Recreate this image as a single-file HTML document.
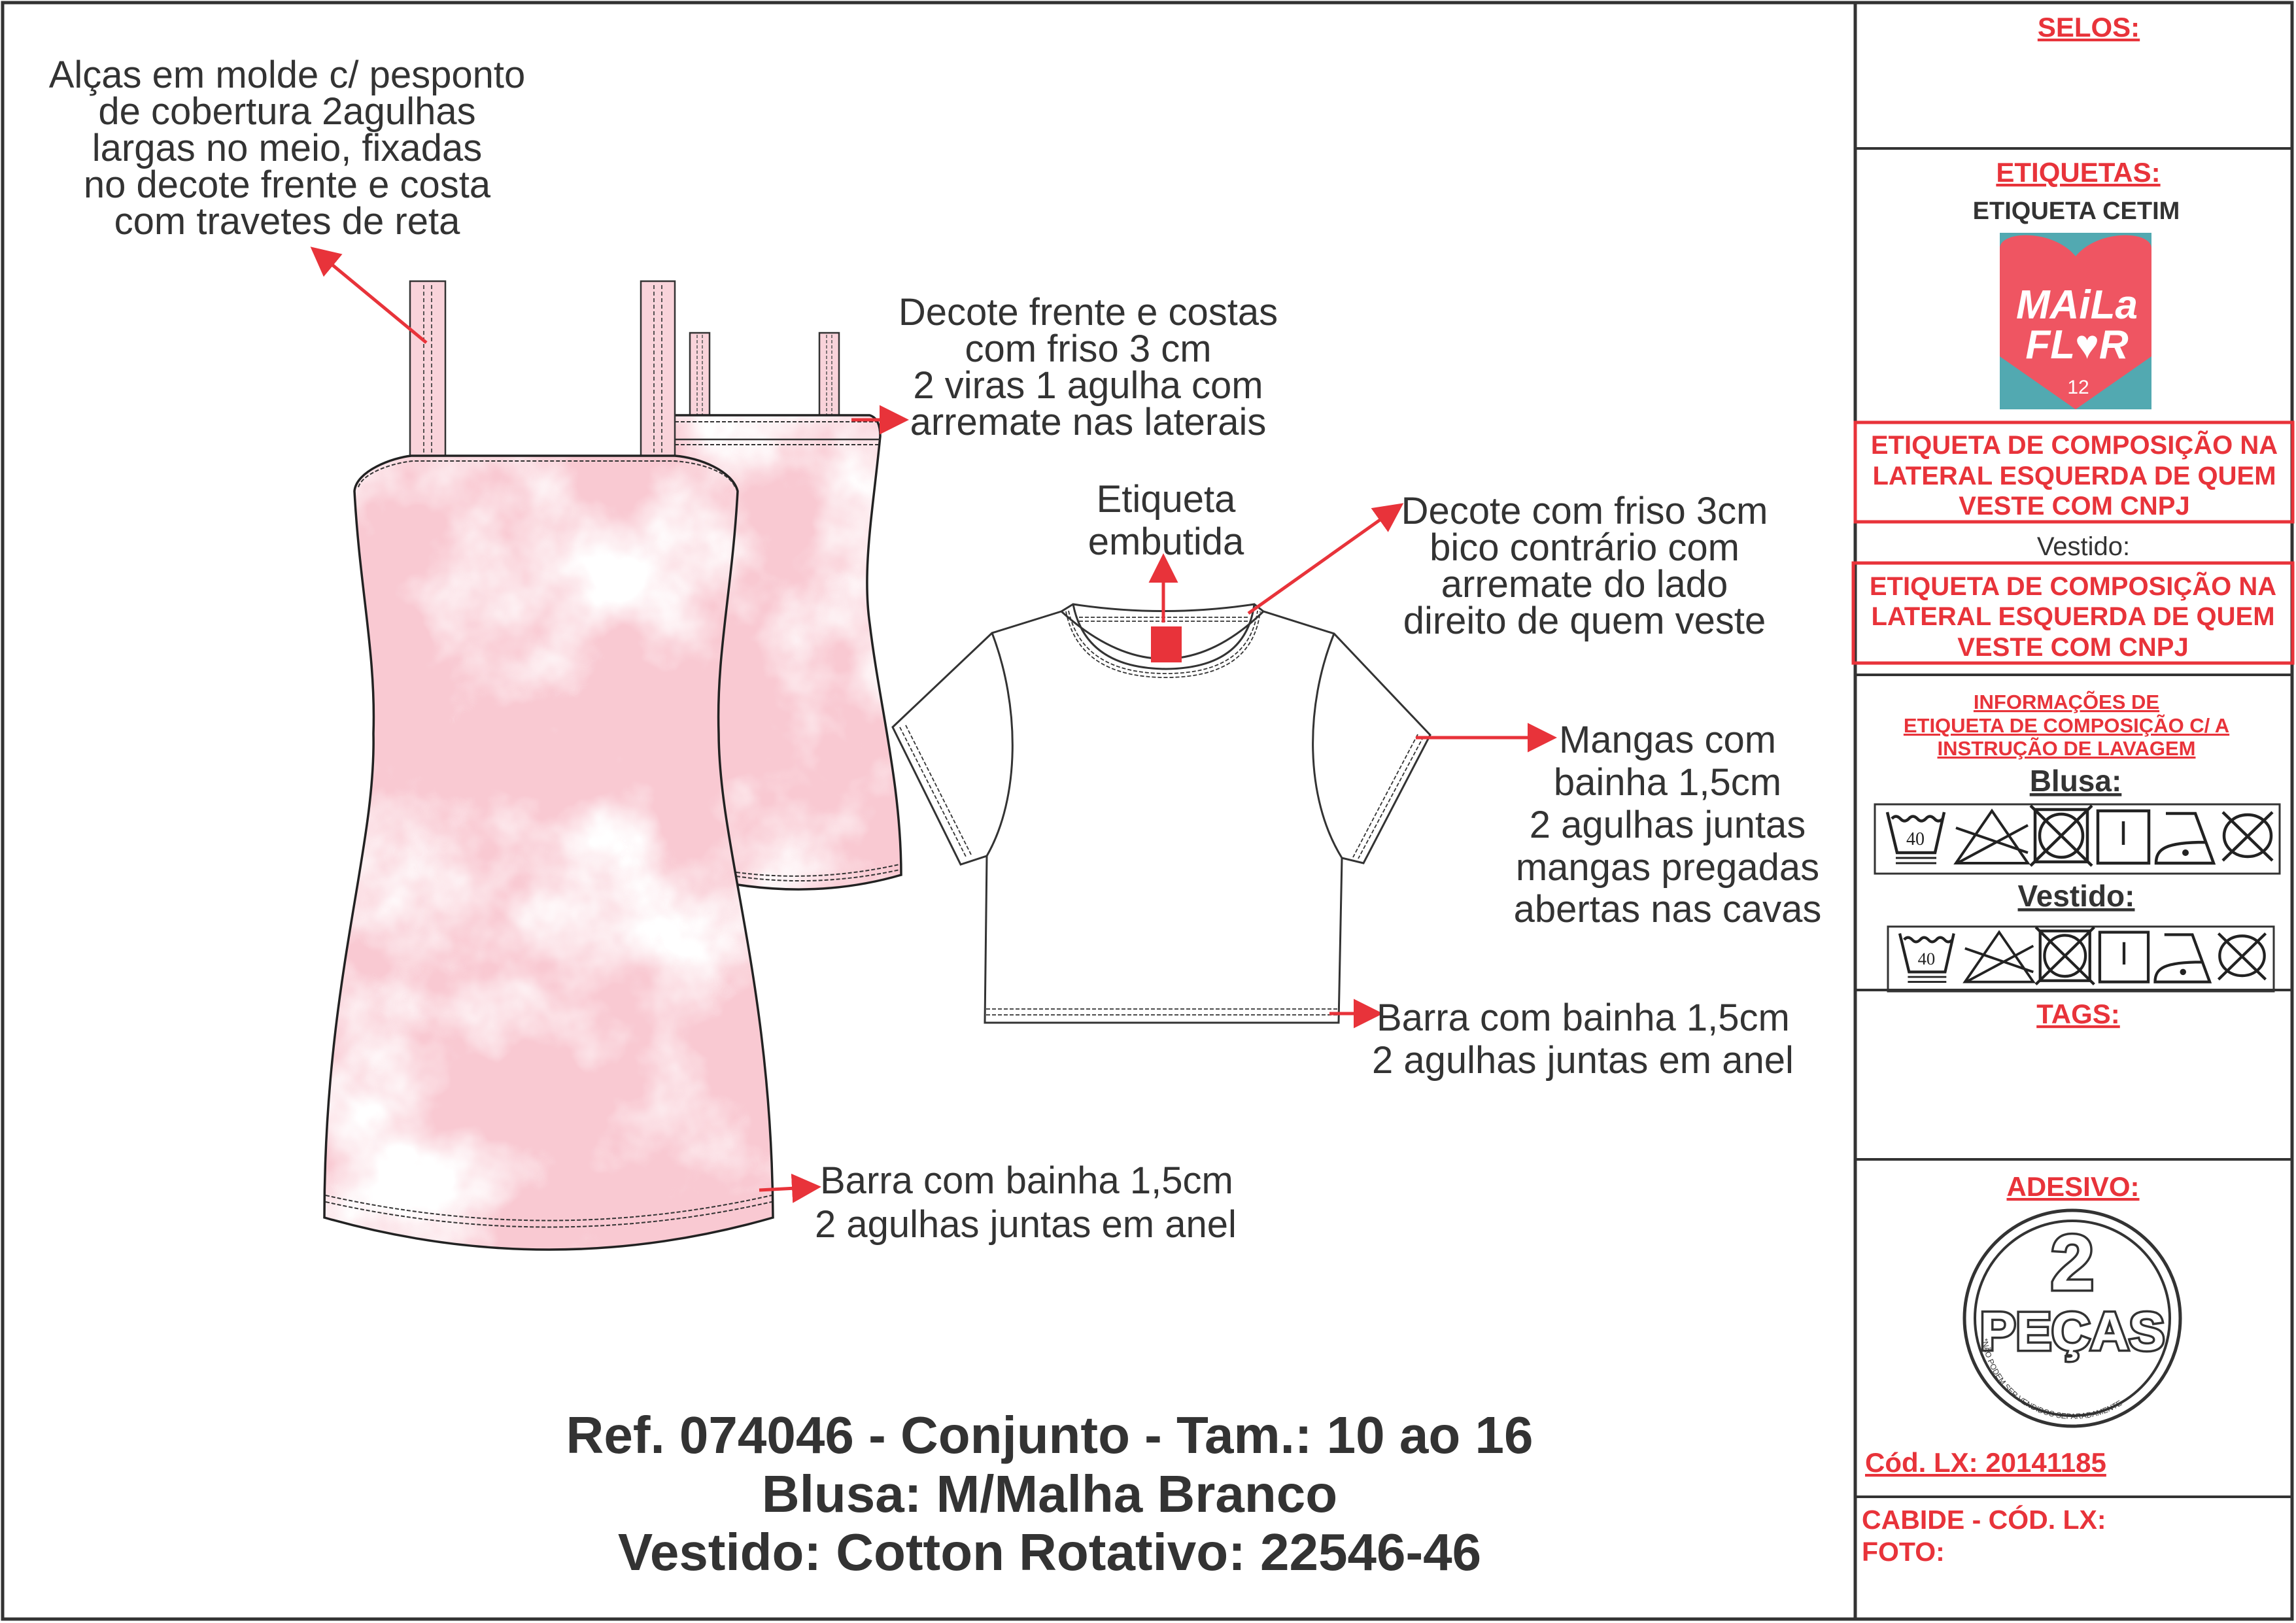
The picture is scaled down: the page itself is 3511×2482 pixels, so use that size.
<!DOCTYPE html>
<html><head><meta charset="utf-8"><style>html,body{margin:0;padding:0;background:#fff}svg{display:block}</style></head><body>
<svg width="3511" height="2482" viewBox="0 0 3511 2482" xmlns="http://www.w3.org/2000/svg" font-family="Liberation Sans, Arial, sans-serif">
<defs>
<marker id="ah" markerWidth="9" markerHeight="9" refX="5" refY="4.5" orient="auto" markerUnits="strokeWidth"><path d="M0,0 L9,4.5 L0,9 Z" fill="#e8333a"/></marker>
<filter id="td" x="0" y="0" width="100%" height="100%"><feTurbulence type="fractalNoise" baseFrequency="0.004" numOctaves="5" seed="7"/><feColorMatrix type="matrix" values="0 0 0 0 1  0 0 0 0 1  0 0 0 0 1  4 0 0 0 -1.8"/></filter>
<clipPath id="cf"><path d="M542,751 C545,720 600,700 629,697 L1032,697 C1070,700 1120,720 1128,751 C1120,900 1095,1000 1099,1122 C1100,1300 1180,1500 1182,1862 Q840,1960 496,1862 C496,1500 575,1300 571,1122 C575,1000 550,900 542,751 Z"/></clipPath>
<clipPath id="cb"><path d="M1032,635 L1330,635 Q1346,640 1346,667 C1335,780 1318,870 1330,954 C1345,1080 1378,1200 1378,1338 Q1250,1375 1110,1350 L1032,1000 Z"/></clipPath>
<path id="arc" d="M3030,2030 A140,140 0 0 0 3310,2030"/>
</defs>
<rect width="3511" height="2482" fill="#fff"/>
<rect x="4" y="4" width="3501" height="2472" fill="none" stroke="#333" stroke-width="5"/>
<line x1="2837" y1="4" x2="2837" y2="2476" stroke="#333" stroke-width="5"/>
<g stroke="#333" stroke-width="4">
<line x1="2837" y1="227" x2="3505" y2="227"/>
<line x1="2837" y1="1032" x2="3505" y2="1032"/>
<line x1="2837" y1="1514" x2="3505" y2="1514"/>
<line x1="2837" y1="1773" x2="3505" y2="1773"/>
<line x1="2837" y1="2289" x2="3505" y2="2289"/>
</g>

<g stroke="#333" stroke-width="2.5" fill="#f9d3da">
<rect x="1055" y="509" width="30" height="160"/><rect x="1253" y="509" width="30" height="160"/>
</g>
<g stroke="#555" stroke-width="1.5" stroke-dasharray="5 3"><line x1="1066" y1="512" x2="1066" y2="668"/><line x1="1074" y1="512" x2="1074" y2="668"/><line x1="1264" y1="512" x2="1264" y2="668"/><line x1="1272" y1="512" x2="1272" y2="668"/></g>
<g clip-path="url(#cb)"><rect x="1000" y="600" width="400" height="800" fill="#f9c9d2"/><rect x="1000" y="600" width="400" height="800" filter="url(#td)"/></g>
<path d="M1032,635 L1330,635 Q1346,640 1346,667 C1335,780 1318,870 1330,954 C1345,1080 1378,1200 1378,1338 Q1250,1375 1110,1350" fill="none" stroke="#222" stroke-width="3.5"/>
<line x1="1032" y1="672" x2="1346" y2="672" stroke="#333" stroke-width="2.5"/>
<g fill="none" stroke="#333" stroke-width="2" stroke-dasharray="6 3"><line x1="1032" y1="645" x2="1340" y2="645"/><line x1="1032" y1="680" x2="1346" y2="680"/><path d="M1126,1334 Q1250,1350 1375,1322"/><path d="M1126,1340 Q1250,1358 1376,1330"/></g>
<g stroke="#333" stroke-width="2.5" fill="#f9d3da">
<rect x="627" y="430" width="54" height="267"/><rect x="980" y="430" width="52" height="267"/>
</g>
<g stroke="#444" stroke-width="1.8" stroke-dasharray="6 4"><line x1="648" y1="436" x2="648" y2="695"/><line x1="660" y1="436" x2="660" y2="695"/><line x1="1000" y1="436" x2="1000" y2="695"/><line x1="1012" y1="436" x2="1012" y2="695"/></g>
<g clip-path="url(#cf)"><rect x="480" y="680" width="720" height="1300" fill="#f9c9d2"/><rect x="480" y="680" width="720" height="1300" filter="url(#td)"/></g>
<path d="M542,751 C545,720 600,700 629,697 L1032,697 C1070,700 1120,720 1128,751 C1120,900 1095,1000 1099,1122 C1100,1300 1180,1500 1182,1862 Q840,1960 496,1862 C496,1500 575,1300 571,1122 C575,1000 550,900 542,751 Z" fill="none" stroke="#222" stroke-width="3.5"/>
<g fill="none" stroke="#333" stroke-width="2" stroke-dasharray="6 3"><path d="M548,745 C555,722 605,707 632,705 L1030,705 C1070,707 1115,722 1124,745"/><path d="M498,1828 Q840,1905 1180,1828"/><path d="M498,1838 Q840,1915 1180,1838"/></g>

<g fill="#fff" stroke="#333" stroke-width="3">
<path d="M1623,935 L1517,968 L1365,1112 L1469,1322 L1509,1309 L1506,1564 L2047,1564 L2052,1312 L2085,1320 L2187,1124 L2040,969 L1932,935 Q1783,1080 1623,935 Z"/>
<path d="M1517,968 C1560,1080 1560,1220 1509,1309" fill="none"/>
<path d="M2040,969 C1995,1080 1995,1220 2052,1312" fill="none"/>
<path d="M1623,935 L1641,924 Q1780,945 1918,924 L1932,935" fill="none"/>
<path d="M1641,924 Q1660,1022 1783,1023 Q1905,1022 1918,924" fill="none"/>
</g>
<g fill="none" stroke="#333" stroke-width="1.8" stroke-dasharray="6 3">
<path d="M1630,935 Q1650,1036 1783,1036 Q1915,1036 1927,935"/><path d="M1634,934 Q1655,1030 1783,1030 Q1910,1030 1923,934"/>
<line x1="1650" y1="944" x2="1910" y2="944"/><line x1="1650" y1="950" x2="1910" y2="950"/>
<line x1="1376" y1="1112" x2="1477" y2="1310"/><line x1="1385" y1="1109" x2="1485" y2="1307"/>
<line x1="2177" y1="1126" x2="2077" y2="1313"/><line x1="2168" y1="1123" x2="2069" y2="1311"/>
<line x1="1508" y1="1543" x2="2045" y2="1543"/><line x1="1508" y1="1552" x2="2045" y2="1552"/>
</g>
<rect x="1760" y="958" width="47" height="55" fill="#e8333a"/>

<g stroke="#e8333a" stroke-width="5" marker-end="url(#ah)">
<line x1="652" y1="524" x2="490" y2="390"/>
<line x1="1302" y1="642" x2="1370" y2="642"/>
<line x1="1161" y1="1820" x2="1236" y2="1816"/>
<line x1="1779" y1="952" x2="1779" y2="866"/>
<line x1="1909" y1="938" x2="2130" y2="781"/>
<line x1="2165" y1="1128" x2="2361" y2="1128"/>
<line x1="2033" y1="1550" x2="2095" y2="1550"/>
</g>

<g fill="#333" font-size="58" text-anchor="middle">
<text x="439" y="134">Alças em molde c/ pesponto</text>
<text x="439" y="190">de cobertura 2agulhas</text>
<text x="439" y="246">largas no meio, fixadas</text>
<text x="439" y="302">no decote frente e costa</text>
<text x="439" y="358">com travetes de reta</text>
<text x="1664" y="497">Decote frente e costas</text>
<text x="1664" y="553">com friso 3 cm</text>
<text x="1664" y="609">2 viras 1 agulha com</text>
<text x="1664" y="665">arremate nas laterais</text>
<text x="1783" y="783">Etiqueta</text>
<text x="1783" y="848">embutida</text>
<text x="2423" y="801">Decote com friso 3cm</text>
<text x="2423" y="857">bico contrário com</text>
<text x="2423" y="913">arremate do lado</text>
<text x="2423" y="969">direito de quem veste</text>
<text x="2550" y="1151">Mangas com</text>
<text x="2550" y="1216">bainha 1,5cm</text>
<text x="2550" y="1281">2 agulhas juntas</text>
<text x="2550" y="1346">mangas pregadas</text>
<text x="2550" y="1410">abertas nas cavas</text>
</g>
<g fill="#333" font-size="58">
<text x="2105" y="1576">Barra com bainha 1,5cm</text>
<text x="2098" y="1641">2 agulhas juntas em anel</text>
<text x="1254" y="1825">Barra com bainha 1,5cm</text>
<text x="1246" y="1892">2 agulhas juntas em anel</text>
</g>
<g fill="#333" font-size="80" font-weight="bold" text-anchor="middle">
<text x="1605" y="2222">Ref. 074046 - Conjunto - Tam.: 10 ao 16</text>
<text x="1605" y="2312">Blusa: M/Malha Branco</text>
<text x="1605" y="2401">Vestido: Cotton Rotativo: 22546-46</text>
</g>

<g font-weight="bold" text-anchor="middle" fill="#e8333a" text-decoration="underline">
<text x="3194" y="56" font-size="42">SELOS:</text>
<text x="3178" y="278" font-size="42">ETIQUETAS:</text>
<text x="3178" y="1565" font-size="42">TAGS:</text>
<text x="3170" y="1829" font-size="42">ADESIVO:</text>
<text x="3160" y="1084" font-size="31">INFORMAÇÕES DE</text>
<text x="3160" y="1120" font-size="31">ETIQUETA DE COMPOSIÇÃO C/ A</text>
<text x="3160" y="1155" font-size="31">INSTRUÇÃO DE LAVAGEM</text>
</g>
<text x="3175" y="335" font-size="38" font-weight="bold" fill="#333" text-anchor="middle">ETIQUETA CETIM</text>
<rect x="3058" y="356" width="232" height="270" fill="#52a9b1"/>
<path d="M3174,392 C3140,350 3058,352 3058,380 L3058,545 L3174,626 L3290,545 L3290,380 C3290,352 3208,350 3174,392 Z" fill="#ef5562"/>
<g fill="#fff" font-weight="bold" text-anchor="middle">
<text x="3176" y="487" font-size="62" font-style="italic">MAiLa</text>
<text x="3176" y="548" font-size="62" font-style="italic">FL♥R</text>
<text x="3178" y="602" font-size="30" font-weight="normal">12</text>
</g>
<rect x="2837" y="646" width="669" height="152" fill="none" stroke="#e8333a" stroke-width="5"/>
<rect x="2834" y="861" width="672" height="153" fill="none" stroke="#e8333a" stroke-width="5"/>
<g fill="#e8333a" font-size="40" font-weight="bold" text-anchor="middle">
<text x="3172" y="694">ETIQUETA DE COMPOSIÇÃO NA</text>
<text x="3172" y="741">LATERAL ESQUERDA DE QUEM</text>
<text x="3172" y="787">VESTE COM CNPJ</text>
<text x="3170" y="910">ETIQUETA DE COMPOSIÇÃO NA</text>
<text x="3170" y="956">LATERAL ESQUERDA DE QUEM</text>
<text x="3170" y="1003">VESTE COM CNPJ</text>
</g>
<text x="3186" y="849" font-size="40" fill="#333" text-anchor="middle">Vestido:</text>
<g fill="#333" font-weight="bold" text-anchor="middle" text-decoration="underline" font-size="46">
<text x="3174" y="1210">Blusa:</text>
<text x="3175" y="1386">Vestido:</text>
</g>
<rect x="2867" y="1230" width="619" height="106" fill="none" stroke="#333" stroke-width="3"/>
<g transform="translate(2867,1232)" fill="none" stroke="#222" stroke-width="4.5">
<path d="M19,10 L34,72 L92,72 L106,10"/><path d="M26,20 q6,-7 13,0 q6,7 13,0 q6,-7 13,0 q6,7 13,0 q6,-7 13,0 q6,7 13,0"/>
<path d="M32,80 L94,80 M32,88 L94,88" stroke-width="3"/>
<text x="62" y="60" font-size="28" fill="#222" stroke="none" text-anchor="middle" font-family="Liberation Serif, serif">40</text>
<path d="M124,88 L179,8 L234,88 Z M124,34 L234,72 M126,88 L234,30" stroke-width="4"/>
<rect x="245" y="6" width="80" height="80"/><circle cx="285" cy="46" r="33"/><path d="M238,0 L332,92 M332,0 L238,92"/>
<rect x="341" y="8" width="78" height="80"/><path d="M380,24 L380,60"/>
<path d="M445,12 L490,12 L518,88 L430,88 C430,66 445,56 505,56"/><circle cx="475" cy="72" r="5" fill="#222" stroke="none"/>
<ellipse cx="570" cy="46" rx="36" ry="32"/><path d="M532,10 L608,84 M608,10 L532,84"/>
</g>
<rect x="2887" y="1417" width="590" height="99" fill="none" stroke="#333" stroke-width="3"/>
<g transform="translate(2887,1418) scale(0.95,0.95)" fill="none" stroke="#222" stroke-width="4.5">
<path d="M19,10 L34,72 L92,72 L106,10"/><path d="M26,20 q6,-7 13,0 q6,7 13,0 q6,-7 13,0 q6,7 13,0 q6,-7 13,0 q6,7 13,0"/>
<path d="M32,80 L94,80 M32,88 L94,88" stroke-width="3"/>
<text x="62" y="60" font-size="28" fill="#222" stroke="none" text-anchor="middle" font-family="Liberation Serif, serif">40</text>
<path d="M124,88 L179,8 L234,88 Z M124,34 L234,72 M126,88 L234,30" stroke-width="4"/>
<rect x="245" y="6" width="80" height="80"/><circle cx="285" cy="46" r="33"/><path d="M238,0 L332,92 M332,0 L238,92"/>
<rect x="341" y="8" width="78" height="80"/><path d="M380,24 L380,60"/>
<path d="M445,12 L490,12 L518,88 L430,88 C430,66 445,56 505,56"/><circle cx="475" cy="72" r="5" fill="#222" stroke="none"/>
<ellipse cx="570" cy="46" rx="36" ry="32"/><path d="M532,10 L608,84 M608,10 L532,84"/>
</g>
<circle cx="3169" cy="2016" r="165" fill="none" stroke="#333" stroke-width="5"/>
<circle cx="3169" cy="2016" r="149" fill="none" stroke="#333" stroke-width="4"/>
<g font-weight="bold" text-anchor="middle" fill="#fff" stroke="#333" stroke-width="7" paint-order="stroke">
<text x="3169" y="1972" font-size="120">2</text>
<text x="3169" y="2064" font-size="82">PEÇAS</text>
</g>
<text font-size="12" fill="#333"><textPath href="#arc" startOffset="4%">*NÃO PODEM SER VENDIDOS SEPARADAMENTE</textPath></text>
<text x="2852" y="2251" font-size="42" font-weight="bold" fill="#e8333a" text-decoration="underline">Cód. LX: 20141185</text>
<text x="2847" y="2338" font-size="41" font-weight="bold" fill="#e8333a">CABIDE - CÓD. LX:</text>
<text x="2847" y="2387" font-size="41" font-weight="bold" fill="#e8333a">FOTO:</text>
</svg>
</body></html>
